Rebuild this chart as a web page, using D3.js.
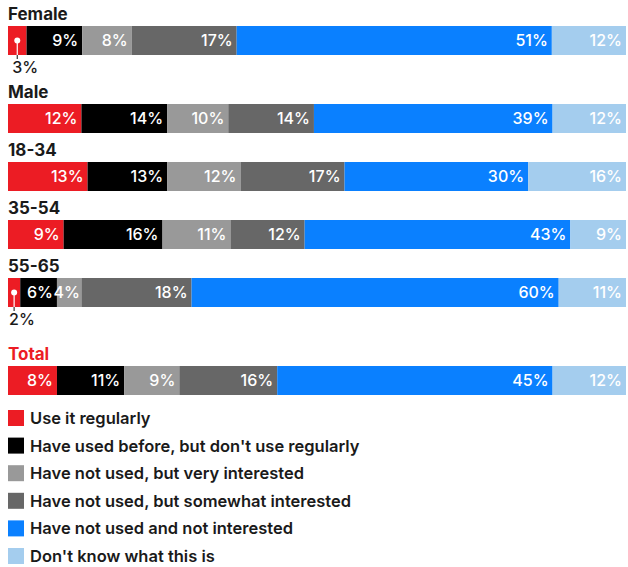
<!DOCTYPE html>
<html>
<head>
<meta charset="utf-8">
<script src="https://cdn.jsdelivr.net/npm/d3@7"></script>
<style>
  body { margin: 0; background: #fff; }
  svg { font-family: Inter, "Noto Sans", sans-serif; }
</style>
</head>
<body>
<div id="chart"></div>
<script>
// categories and values
var groups = ["Female", "Male", "18-34", "35-54", "55-65", "Total"];
var answers = [
  "Use it regularly",
  "Have used before, but don't use regularly",
  "Have not used, but very interested",
  "Have not used, but somewhat interested",
  "Have not used and not interested",
  "Don't know what this is"
];
var female = [3, 9, 8, 17, 51, 12];
var male   = [12, 14, 10, 14, 39, 12];
var age1834 = [13, 13, 12, 17, 30, 16];
var age3554 = [9, 16, 11, 12, 43, 9];
var age5565 = [2, 6, 4, 18, 60, 11];
var total  = [8, 11, 9, 16, 45, 12];
var series = [female, male, age1834, age3554, age5565, total];

var colors = ["#ec1c24", "#000000", "#999999", "#676767", "#0a80ff", "#a4cdee"];

// set the dimensions
var width = 628;
var height = 567;
var left = 8, right = 626;
var barH = 29;
var rowStep = 58;
var calloutGap = 20;   // extra room under rows with a small-segment callout
var totalGap = 10;     // extra room before the Total row

var svg = d3.select("#chart")
  .append("svg")
    .attr("width", width)
    .attr("height", height);

var color = d3.scaleOrdinal().domain(answers).range(colors);

// work out the top of each bar
var tops = [];
var y = 26;
series.forEach(function(vals, i) {
  tops.push(y);
  y += rowStep;
  if (vals[0] < 5) y += calloutGap;
  if (i === series.length - 2) y += totalGap;
});

series.forEach(function(vals, i) {
  var sum = d3.sum(vals);
  var x = d3.scaleLinear().domain([0, sum]).range([left, right]);
  var segs = [];
  var acc = 0;
  vals.forEach(function(v, j) {
    segs.push({ key: answers[j], value: v, x0: acc, x1: acc + v });
    acc += v;
  });

  var g = svg.append("g").attr("transform", "translate(0," + tops[i] + ")");

  g.append("text")
    .attr("x", left)
    .attr("y", -6)
    .attr("font-size", 17)
    .attr("font-weight", 700)
    .attr("fill", groups[i] === "Total" ? "#ec1c24" : "#1a1a1a")
    .text(groups[i]);

  g.selectAll("rect")
    .data(segs)
    .enter()
    .append("rect")
      .attr("x", function(d) { return x(d.x0); })
      .attr("y", 0)
      .attr("width", function(d) { return x(d.x1) - x(d.x0); })
      .attr("height", barH)
      .attr("fill", function(d) { return color(d.key); });

  // labels inside segments, right aligned (tighter in narrow segments)
  g.selectAll("text.val")
    .data(segs.filter(function(d) { return d.value >= 4; }))
    .enter()
    .append("text")
      .attr("class", "val")
      .attr("x", function(d) {
        var w = x(d.x1) - x(d.x0);
        return x(d.x1) - (w < 30 ? 1.5 : 4);
      })
      .attr("y", barH / 2 + 5.5)
      .attr("text-anchor", "end")
      .attr("font-size", 16)
      .attr("font-weight", 500)
      .attr("fill", "#fff")
      .text(function(d) { return d.value + "%"; });

  // callout for tiny segments
  segs.filter(function(d) { return d.value < 4; }).forEach(function(d) {
    var cx = (x(d.x0) + x(d.x1)) / 2;
    g.append("line")
      .attr("x1", cx).attr("x2", cx)
      .attr("y1", barH / 2).attr("y2", barH)
      .attr("stroke", "#fff").attr("stroke-width", 1.2);
    g.append("line")
      .attr("x1", cx).attr("x2", cx)
      .attr("y1", barH).attr("y2", barH + 4)
      .attr("stroke", "#333").attr("stroke-width", 1.2);
    g.append("circle")
      .attr("cx", cx).attr("cy", barH / 2)
      .attr("r", 3).attr("fill", "#fff");
    g.append("text")
      .attr("x", cx - 5)
      .attr("y", barH + 17.5)
      .attr("font-size", 16)
      .attr("font-weight", 500)
      .attr("fill", "#1a1a1a")
      .text(d.value + "%");
  });
});

// legend
var legend = svg.append("g")
  .selectAll("g")
  .data(answers)
  .enter()
  .append("g")
    .attr("transform", function(d, i) { return "translate(" + left + "," + (410 + i * 27.6) + ")"; });

legend.append("rect")
  .attr("width", 16)
  .attr("height", 16)
  .attr("fill", function(d) { return color(d); });

legend.append("text")
  .attr("x", 22)
  .attr("y", 14)
  .attr("font-size", 16.5)
  .attr("font-weight", 600)
  .attr("fill", "#1a1a1a")
  .text(function(d) { return d; });
</script>
</body>
</html>
